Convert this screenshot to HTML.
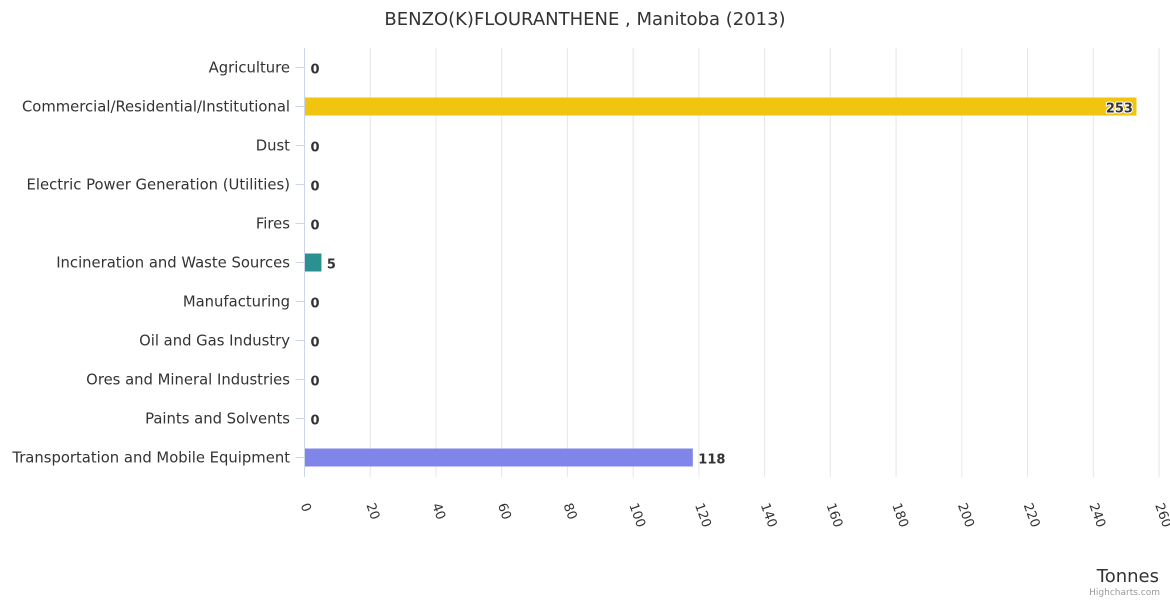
<!DOCTYPE html>
<html><head><meta charset="utf-8"><style>
body{margin:0;background:#fff;font-family:"Liberation Sans","DejaVu Sans",sans-serif;}
svg text{font-family:"DejaVu Sans","Liberation Sans",sans-serif;}
</style></head><body>
<svg id="c" width="1170" height="600">
<text x="585" y="25" text-anchor="middle" font-size="18" fill="#333">BENZO(K)FLOURANTHENE , Manitoba (2013)</text>
<g id="grid"></g><g id="bars"></g><g id="cats"></g><g id="ticks"></g>
<text x="1159" y="582" text-anchor="end" font-size="18" fill="#333">Tonnes</text>
<text x="1160" y="595" text-anchor="end" font-size="9" fill="#999">Highcharts.com</text>
</svg>
<script>
const categories=["Agriculture","Commercial/Residential/Institutional","Dust","Electric Power Generation (Utilities)","Fires","Incineration and Waste Sources","Manufacturing","Oil and Gas Industry","Ores and Mineral Industries","Paints and Solvents","Transportation and Mobile Equipment"];
const values=[0,253,0,0,0,5,0,0,0,0,118];
const colors=["#7cb5ec","#f1c40f","#7cb5ec","#7cb5ec","#7cb5ec","#2a9090","#7cb5ec","#7cb5ec","#7cb5ec","#7cb5ec","#8085e9"];
const tickValues=[0,20,40,60,80,100,120,140,160,180,200,220,240,260];
const NS="http://www.w3.org/2000/svg";
const x0=304.5,x1=1159,yTop=48,yBot=477,xmax=260;
const xs=v=>x0+v/xmax*(x1-x0);
const rowH=(yBot-yTop)/categories.length;
const yc=i=>yTop+rowH*(i+0.5);
function mk(p,t,a){const e=document.createElementNS(NS,t);for(const k in a)e.setAttribute(k,a[k]);document.getElementById(p).appendChild(e);return e;}
tickValues.forEach(v=>{
 const g=mk('grid','line',{x1:xs(v),x2:xs(v),y1:yTop,y2:yBot,stroke:v===0?'#ccd6eb':'#e6e6e6','stroke-width':1});
 
 
 const t=mk('ticks','text',{x:xs(v)-4,y:505,'font-size':13,fill:'#333',transform:`rotate(70 ${xs(v)-4} 505)`});
 t.textContent=v;
 
 
});
categories.forEach((c,i)=>{
 const y=yc(i);
 const tk=mk('cats','line',{x1:x0-9,x2:x0,y1:y,y2:y,stroke:'#ccd6eb'});
 
 
 const t=mk('cats','text',{x:290,y:y+5,'text-anchor':'end','font-size':14.8,fill:'#333'});
 t.textContent=c;
 
 
 const w=xs(values[i])-x0;
 if(w>0){const r=mk('bars','rect',{x:x0+0.5,y:y-9,width:w,height:18,fill:colors[i]});
 
 }
 const inside=values[i]>240;
 const l=mk('bars','text',{x:inside?xs(values[i])-3:xs(values[i])+6,y:y+6,'text-anchor':inside?'end':'start','font-size':13,'font-weight':'bold',fill:'#333',stroke:inside?'#fff':'none','stroke-width':inside?2:0,'paint-order':'stroke'});
 l.textContent=values[i];
 
 
});
</script>
</body></html>
